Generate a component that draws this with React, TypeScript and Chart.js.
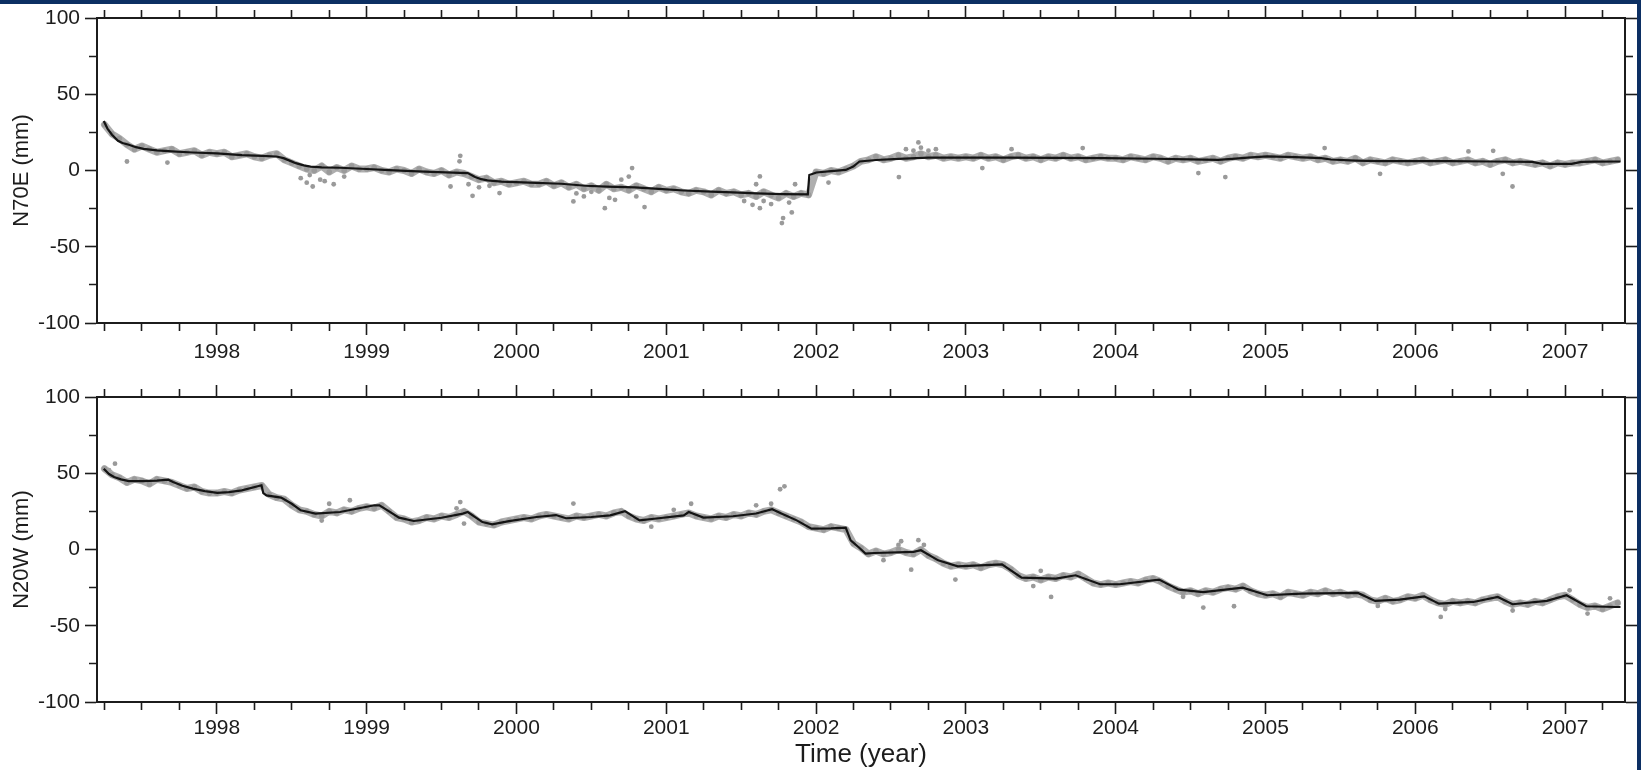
import React, { useEffect, useRef } from "react";
import { Chart, registerables } from "chart.js";

Chart.register(...registerables);

// ---------- axes ----------
const X_MIN = 1997.2;
const X_MAX = 2007.4;
const Y_MIN = -100;
const Y_MAX = 100;
const yearTicks = [1997, 1998, 1999, 2000, 2001, 2002, 2003, 2004, 2005, 2006, 2007];
const yearLabels = [1998, 1999, 2000, 2001, 2002, 2003, 2004, 2005, 2006, 2007];
const quarterOffsets = [0, 0.25, 0.5, 0.75];
const yTicks = [-100, -75, -50, -25, 0, 25, 50, 75, 100];
const yLabeled = [-100, -50, 0, 50, 100];

// ---------- observations (one reading every 0.05 yr from 1997.25) ----------
const OBS_START = 1997.25;
const OBS_STEP = 0.05;

const n70eObs = [
  30, 24, 21, 17, 14, 16, 14, 12, 13, 14, 11, 12, 13, 10, 12,
  11, 12, 9, 10, 11, 9, 8, 10, 11, 7, 5, 3, 1, 0, 3, -1, 2, 0, 3, 1,
  1, 2, 0, -1, 1, 0, -2, 1, -1, -2, 0, -3, -1, -2, -4, -6, -5, -8, -7, -9,
  -8, -7, -9, -9, -7, -10, -8, -11, -9, -12, -10, -13, -9, -12, -11, -13, -10, -12, -14, -11,
  -13, -12, -14, -15, -13, -14, -16, -13, -15, -14, -16, -15, -17, -14, -16, -18, -15, -17, -15, -16,
  -1, -2, 0, -1, 1, 3, 6, 7, 9, 7, 8, 10, 8, 9, 11, 9, 10, 8, 9, 8,
  9, 8, 10, 8, 9, 7, 9, 10, 8, 9, 7, 9, 8, 10, 8, 9, 7, 8, 9, 8,
  8, 7, 9, 8, 7, 9, 8, 6, 8, 7, 8, 6, 7, 8, 6, 8, 9, 8, 10, 9,
  10, 9, 8, 10, 9, 8, 9, 7, 8, 6, 7, 6, 8, 5, 7, 6, 5, 7, 6, 5,
  6, 7, 5, 6, 7, 5, 6, 7, 5, 6, 4, 6, 7, 5, 6, 5, 4, 5, 3, 5,
  4, 5, 5, 6, 7, 5, 6, 7,
];

const n20wObs = [
  53, 49, 47, 44, 46, 45, 43, 46, 45, 44, 42, 40, 41, 38, 37,
  37, 38, 37, 39, 40, 41, 42, 36, 34, 33, 29, 26, 25, 23, 22, 25, 24, 26, 25, 27,
  28, 27, 29, 25, 21, 20, 18, 19, 21, 20, 22, 21, 23, 25, 22, 18, 17, 16, 18, 19,
  20, 21, 20, 22, 23, 22, 21, 20, 22, 21, 22, 23, 22, 24, 25, 22, 20, 19, 21, 20,
  21, 22, 23, 24, 22, 21, 20, 22, 21, 23, 22, 24, 23, 25, 26, 24, 22, 20, 18, 15,
  14, 13, 15, 14, 13, 4, 1, -3, -1, -3, -2, 0, -2, -3, 0, -4, -6, -9, -11, -10,
  -11, -10, -12, -10, -9, -10, -13, -17, -19, -18, -20, -18, -19, -17, -18, -16, -19, -22, -23, -22,
  -23, -22, -21, -22, -20, -19, -21, -24, -26, -28, -27, -29, -27, -28, -26, -25, -26, -24, -27, -29,
  -30, -29, -31, -28, -29, -30, -28, -29, -27, -29, -28, -30, -29, -30, -33, -34, -32, -34, -33, -31,
  -32, -30, -33, -35, -36, -34, -35, -34, -35, -33, -32, -31, -34, -36, -35, -36, -34, -35, -33, -31,
  -30, -33, -36, -38, -37, -39, -37, -35,
];

// ---------- scattered observations off the main band ----------
const n70eOutX = [
  1997.4, 1997.67, 1998.56, 1998.6, 1998.62, 1998.64, 1998.69, 1998.72, 1998.78, 1998.85,
  1999.56, 1999.62, 1999.625, 1999.68, 1999.707, 1999.75, 1999.82, 1999.887, 2000.38, 2000.4,
  2000.45, 2000.5, 2000.59, 2000.62, 2000.658, 2000.7, 2000.75, 2000.772, 2000.8, 2000.855,
  2001.52, 2001.576, 2001.6, 2001.625, 2001.625, 2001.65, 2001.7, 2001.772, 2001.78, 2001.82,
  2001.838, 2001.86, 2002.083, 2002.553, 2002.6, 2002.65, 2002.683, 2002.7, 2002.75, 2002.8,
  2003.11, 2003.305, 2003.78, 2004.552, 2004.732, 2005.395, 2005.765, 2006.355, 2006.52, 2006.584,
  2006.649,
];
const n70eOutY = [
  5.9, 5.2, -5, -8, -3, -10.5, -6, -7, -9, -4,
  -10.5, 6, 9.6, -9, -16.6, -11, -10, -14.8, -20.3, -15,
  -17, -14, -24.7, -18, -19.2, -6, -4, 1.6, -17, -24,
  -20, -22.5, -9, -3.9, -24.7, -20, -22, -34.5, -31.2, -21,
  -27.5, -9, -7.9, -4.3, 14, 13, 18.4, 15, 13, 14,
  1.6, 14, 14.7, -1.7, -4.3, 14.7, -2.2, 12.5, 12.9, -2.2,
  -10.5,
];
const n20wOutX = [
  1997.28, 1997.32, 1998.7, 1998.75, 1998.888, 1999.6, 1999.625, 1999.65, 2000.38, 2000.9,
  2001.05, 2001.166, 2001.6, 2001.7, 2001.76, 2001.789, 2002.45, 2002.55, 2002.568, 2002.635,
  2002.683, 2002.72, 2002.93, 2003.45, 2003.5, 2003.569, 2004.45, 2004.585, 2004.79, 2005.75,
  2006.17, 2006.2, 2006.65, 2007.03, 2007.15, 2007.3,
];
const n20wOutY = [
  52, 56.3, 19, 30, 32.3, 27, 31.1, 17, 30.1, 15,
  26, 30, 29, 30, 39.5, 41.4, -7, 3, 5.4, -13.2,
  6.1, 3, -19.7, -24, -14, -31.1, -31, -38.1, -37.2, -37,
  -44.2, -39, -40, -26.8, -42, -32,
];

// ---------- model curves ----------
const n70eModelX = [
  1997.245, 1997.27, 1997.3, 1997.34, 1997.37, 1997.413, 1997.46, 1997.511, 1997.6, 1997.7,
  1997.839, 1998.0, 1998.167, 1998.3, 1998.397, 1998.445, 1998.49, 1998.527, 1998.58, 1998.626,
  1998.7, 1998.822, 1999.0, 1999.15, 1999.3, 1999.478, 1999.675, 1999.724, 1999.765, 1999.806,
  1999.9, 2000.134, 2000.298, 2000.461, 2000.6, 2000.789, 2000.95, 2001.117, 2001.3, 2001.445,
  2001.6, 2001.772, 2001.945, 2001.955, 2002.002, 2002.1, 2002.198, 2002.248, 2002.29, 2002.4,
  2002.55, 2002.749, 2003.0, 2003.274, 2003.6, 2003.929, 2004.257, 2004.5, 2004.683, 2004.8,
  2004.88, 2005.011, 2005.2, 2005.371, 2005.437, 2005.6, 2005.765, 2006.0, 2006.224, 2006.5,
  2006.781, 2006.847, 2007.043, 2007.109, 2007.2, 2007.37,
];
const n70eModelY = [
  32.5, 27.5, 23.5, 19.5, 18, 16.9, 15.3, 14.2, 13.2, 12.5,
  11.8, 11.2, 10.1, 9.6, 9.2, 8.1, 6.3, 4.8, 3.4, 2.6,
  2.1, 1.8, 1.0, 0.2, -0.4, -1.1, -1.7, -4.3, -5.7, -6.5,
  -7.3, -8.1, -8.7, -10, -10.6, -11.1, -12.1, -13.1, -13.8, -14.4,
  -15, -15.5, -15.7, -3, -1.3, -0.4, 0.4, 2.6, 5.9, 6.9,
  7.6, 8.5, 8.5, 8.5, 8.3, 8.1, 7.7, 7.3, 7.0, 7.8,
  8.5, 9.2, 8.8, 8.1, 7.2, 6.5, 6.1, 6.1, 6.1, 5.9,
  5.7, 4.4, 4.4, 5.7, 5.8, 5.9,
];

const n20wModelX = [
  1997.245, 1997.28, 1997.314, 1997.36, 1997.413, 1997.5, 1997.6, 1997.676, 1997.708, 1997.77,
  1997.839, 1997.92, 1998.003, 1998.08, 1998.167, 1998.298, 1998.31, 1998.331, 1998.429, 1998.5,
  1998.56, 1998.658, 1998.822, 1999.052, 1999.085, 1999.15, 1999.216, 1999.315, 1999.5, 1999.642,
  1999.675, 1999.773, 1999.838, 1999.95, 2000.134, 2000.264, 2000.33, 2000.5, 2000.626, 2000.724,
  2000.822, 2000.95, 2001.117, 2001.15, 2001.248, 2001.445, 2001.6, 2001.707, 2001.772, 2001.871,
  2001.969, 2002.1, 2002.198, 2002.231, 2002.29, 2002.33, 2002.389, 2002.651, 2002.7, 2002.815,
  2002.946, 2003.241, 2003.372, 2003.601, 2003.732, 2003.896, 2004.027, 2004.29, 2004.421, 2004.585,
  2004.848, 2005.011, 2005.24, 2005.617, 2005.732, 2005.896, 2006.06, 2006.158, 2006.388, 2006.551,
  2006.649, 2006.879, 2007.01, 2007.141, 2007.338, 2007.37,
];
const n20wModelY = [
  53, 49.5, 47.5, 46, 44.9, 44.8, 45.2, 45.8, 44.3, 41.8,
  39.9, 38.3, 37.1, 37.6, 38.8, 42.1, 37, 35.5, 34, 30,
  25.7, 23.5, 24.6, 29, 29, 25, 20.9, 18.7, 20.8, 23.5,
  24.6, 18, 16.5, 18.6, 21.3, 22.6, 20.5, 21.3, 22.4, 25.2,
  19.1, 20.5, 22.4, 24.6, 20.9, 21.8, 23.6, 26.4, 23.5, 19.1,
  13.7, 13.9, 14.4, 6, 1, -2.7, -2.3, -1.6, -0.5, -7.1,
  -11, -9.7, -18.4, -19.1, -16.9, -22.8, -22.8, -19.7, -26.3, -27.9,
  -25, -30, -28.9, -28.5, -33.7, -32.9, -30.7, -35.5, -34.4, -31.1,
  -35.9, -33.7, -30, -37.2, -37.7, -37.7,
];

// ---------- styling ----------
const FONT = "'Liberation Sans', Arial, Helvetica, sans-serif";
const INK = "#1c1c1c";
const DOT = "#9a9a9a";
const BAND = "rgba(165,165,165,0.9)";
const W = 1641;

type PanelSpec = {
  title: string;
  obs: number[];
  modelX: number[];
  modelY: number[];
  outX: number[];
  outY: number[];
  topAxisH: number;
  bottomAxisH: number;
  xTickPad: number;
  xTitle: string | null;
};

const isWhole = (v: number, step: number) => Math.abs(v / step - Math.round(v / step)) < 1e-6;

function xTickValues(): number[] {
  const out: number[] = [];
  yearTicks.forEach((y) =>
    quarterOffsets.forEach((q) => {
      const v = y + q;
      if (v > X_MIN && v < X_MAX) out.push(v);
    })
  );
  return out;
}

function buildConfig(p: PanelSpec): any {
  const obs = p.obs.map((v, i) => ({ x: OBS_START + i * OBS_STEP, y: v }));
  const model = p.modelX.map((x, i) => ({ x, y: p.modelY[i] }));
  const outl = p.outX.map((x, i) => ({ x, y: p.outY[i] }));
  const xt = xTickValues();
  const setX = (s: any) => {
    s.ticks = xt.map((v) => ({ value: v }));
  };
  const setY = (s: any) => {
    s.ticks = yTicks.map((v) => ({ value: v }));
  };
  const majorX = (c: any) => !!c.tick && isWhole(c.tick.value, 1);
  const majorY = (c: any) => !!c.tick && isWhole(c.tick.value, 50);
  const NEAR = [7, 100]; // tick drawn from the frame outwards
  const FAR = [0, 4, 7, 100]; // tick drawn from its outer end to the frame
  const gridBase = {
    display: true,
    drawOnChartArea: false,
    drawTicks: true,
    tickLength: 12,
    tickColor: INK,
    tickWidth: 1.6,
  };
  const border = { display: true, color: INK, width: 2 };
  const tickFont = { family: FONT, size: 21 };

  return {
    type: "scatter",
    data: {
      datasets: [
        {
          type: "line",
          data: model,
          borderColor: "#141414",
          borderWidth: 2.2,
          pointRadius: 0,
          tension: 0,
          order: 0,
          xAxisID: "x",
          yAxisID: "y",
        },
        {
          type: "line",
          data: obs,
          borderColor: BAND,
          borderWidth: 7,
          borderJoinStyle: "round",
          borderCapStyle: "round",
          pointRadius: 2.8,
          pointBackgroundColor: DOT,
          pointBorderWidth: 0,
          tension: 0,
          order: 1,
          xAxisID: "x",
          yAxisID: "y",
        },
        {
          type: "scatter",
          data: outl,
          pointRadius: 2.4,
          pointBackgroundColor: DOT,
          pointBorderWidth: 0,
          order: 2,
          xAxisID: "x",
          yAxisID: "y",
        },
      ],
    },
    options: {
      animation: false,
      responsive: false,
      events: [],
      layout: { padding: 0 },
      plugins: { legend: { display: false }, tooltip: { enabled: false } },
      scales: {
        x: {
          type: "linear",
          position: "bottom",
          min: X_MIN,
          max: X_MAX,
          bounds: "data",
          afterBuildTicks: setX,
          afterFit: (s: any) => {
            s.height = p.bottomAxisH;
          },
          grid: { ...gridBase, tickBorderDash: (c: any) => (majorX(c) ? [] : NEAR) },
          border,
          ticks: {
            autoSkip: false,
            maxRotation: 0,
            minRotation: 0,
            padding: p.xTickPad,
            color: INK,
            font: tickFont,
            callback: (v: number) =>
              isWhole(v, 1) && yearLabels.includes(Math.round(v)) ? String(Math.round(v)) : "",
          },
          title: p.xTitle
            ? {
                display: true,
                text: p.xTitle,
                color: INK,
                font: { family: FONT, size: 26 },
                padding: { top: 0, bottom: 0 },
              }
            : { display: false },
        },
        x2: {
          type: "linear",
          position: "top",
          min: X_MIN,
          max: X_MAX,
          bounds: "data",
          afterBuildTicks: setX,
          afterFit: (s: any) => {
            s.height = p.topAxisH;
          },
          grid: { ...gridBase, tickBorderDash: (c: any) => (majorX(c) ? [] : FAR) },
          border,
          ticks: { display: false },
        },
        y: {
          type: "linear",
          position: "left",
          min: Y_MIN,
          max: Y_MAX,
          bounds: "data",
          afterBuildTicks: setY,
          afterFit: (s: any) => {
            s.width = 97;
          },
          grid: { ...gridBase, tickBorderDash: (c: any) => (majorY(c) ? [] : FAR) },
          border,
          ticks: {
            autoSkip: false,
            padding: 5,
            color: INK,
            font: tickFont,
            callback: (v: number) => (yLabeled.includes(v) ? String(v) : ""),
          },
          title: {
            display: true,
            text: p.title,
            color: INK,
            font: { family: FONT, size: 22 },
            padding: { top: 9, bottom: 0 },
          },
        },
        y2: {
          type: "linear",
          position: "right",
          min: Y_MIN,
          max: Y_MAX,
          bounds: "data",
          afterBuildTicks: setY,
          afterFit: (s: any) => {
            s.width = 16;
          },
          grid: { ...gridBase, tickBorderDash: (c: any) => (majorY(c) ? [] : NEAR) },
          border,
          ticks: { display: false },
        },
      },
    },
  };
}

const topPanel: PanelSpec = {
  title: "N70E (mm)",
  obs: n70eObs,
  modelX: n70eModelX,
  modelY: n70eModelY,
  outX: n70eOutX,
  outY: n70eOutY,
  topAxisH: 18,
  bottomAxisH: 47,
  xTickPad: 4.4,
  xTitle: null,
};

const bottomPanel: PanelSpec = {
  title: "N20W (mm)",
  obs: n20wObs,
  modelX: n20wModelX,
  modelY: n20wModelY,
  outX: n20wOutX,
  outY: n20wOutY,
  topAxisH: 27,
  bottomAxisH: 68,
  xTickPad: 1.9,
  xTitle: "Time (year)",
};

function PanelCanvas({ spec, top, height }: { spec: PanelSpec; top: number; height: number }) {
  const ref = useRef<HTMLCanvasElement | null>(null);
  useEffect(() => {
    if (!ref.current) return;
    const chart = new Chart(ref.current, buildConfig(spec));
    return () => chart.destroy();
  }, [spec]);
  return (
    <canvas
      ref={ref}
      width={W}
      height={height}
      style={{ position: "absolute", left: 0, top, width: W, height, display: "block" }}
    />
  );
}

export default function App() {
  return (
    <div
      style={{
        position: "absolute",
        left: 0,
        top: 0,
        width: W,
        height: 770,
        background: "#ffffff",
        overflow: "hidden",
      }}
    >
      <PanelCanvas spec={topPanel} top={0} height={370} />
      <PanelCanvas spec={bottomPanel} top={370} height={400} />
      <div style={{ position: "absolute", left: 0, top: 0, width: W, height: 4, background: "#0c2f63" }} />
      <div style={{ position: "absolute", left: 1637, top: 0, width: 4, height: 770, background: "#0c2f63" }} />
    </div>
  );
}
